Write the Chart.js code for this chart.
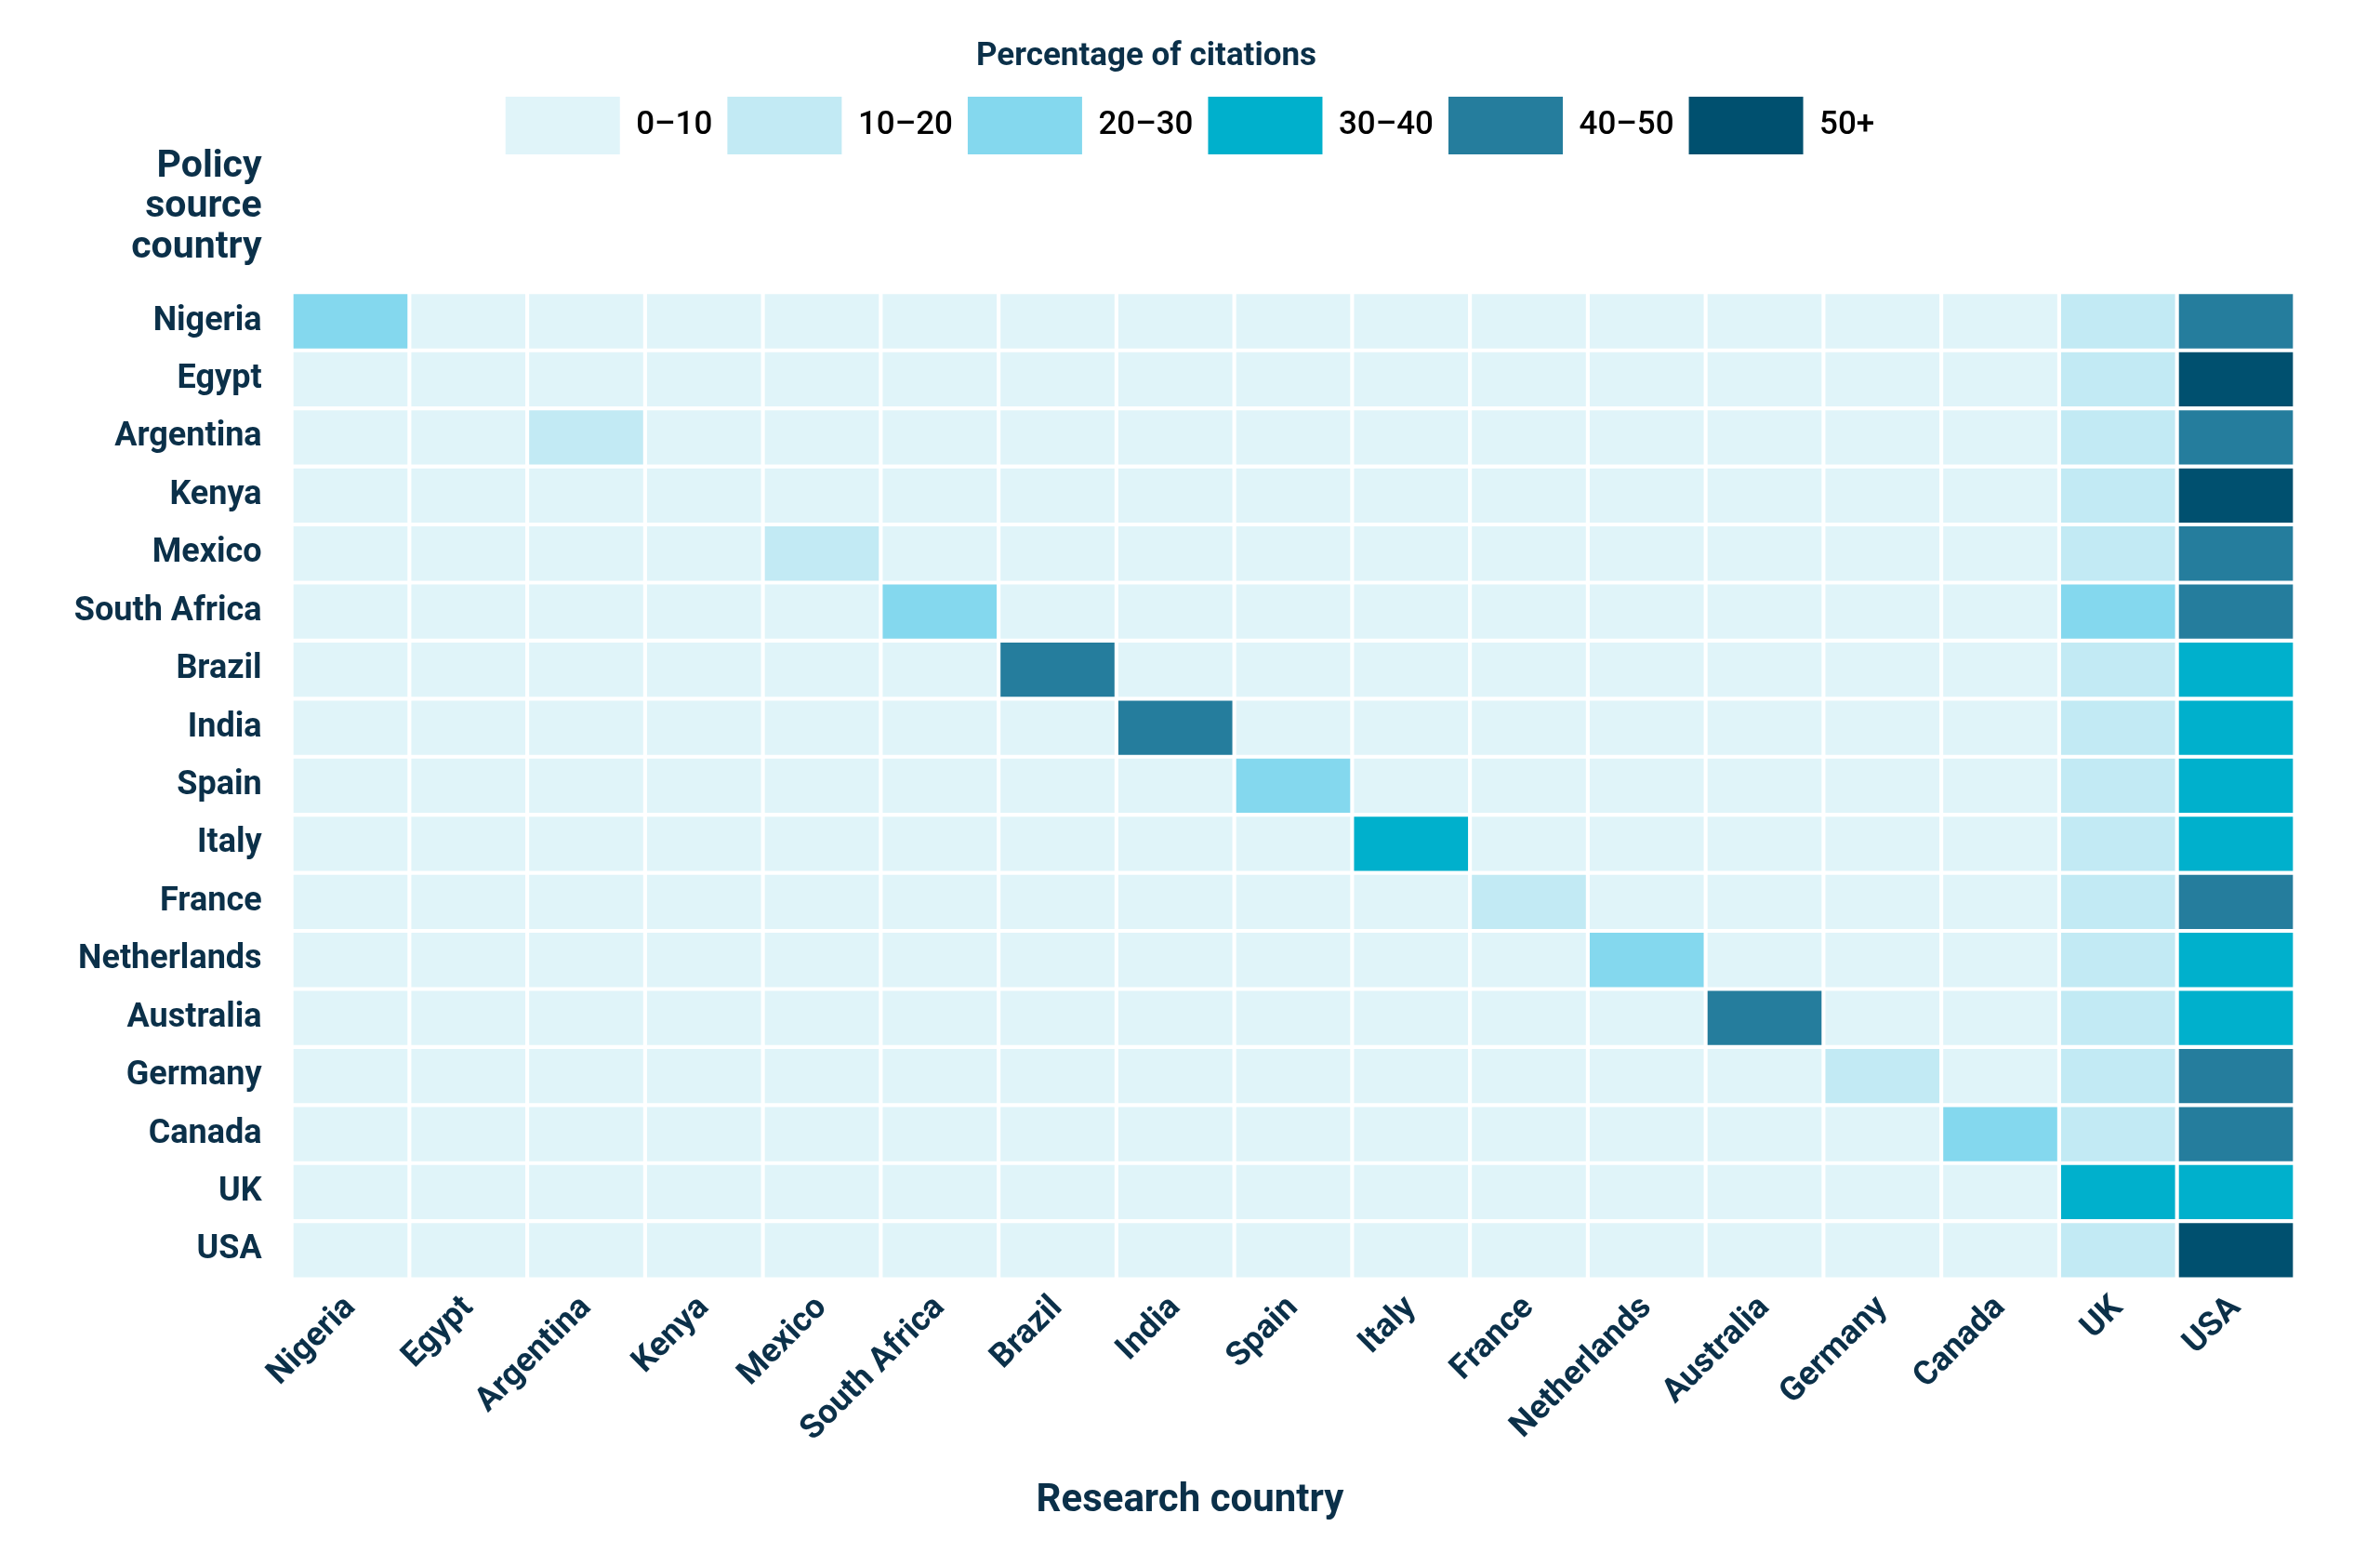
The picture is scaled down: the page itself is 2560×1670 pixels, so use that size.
<!DOCTYPE html>
<html>
<head>
<meta charset="utf-8">
<script src="https://cdn.jsdelivr.net/npm/chart.js@4.4.1/dist/chart.umd.min.js"></script>
<style>
  html, body { margin: 0; padding: 0; background: #ffffff; }
  #wrap { width: 2560px; height: 1670px; position: relative; }
</style>
</head>
<body>
<div id="wrap"><canvas id="c"></canvas></div>
<script>
// ---- data ----
const policyCountries = ['Nigeria','Egypt','Argentina','Kenya','Mexico','South Africa','Brazil','India','Spain','Italy','France','Netherlands','Australia','Germany','Canada','UK','USA'];
const researchCountries = ['Nigeria','Egypt','Argentina','Kenya','Mexico','South Africa','Brazil','India','Spain','Italy','France','Netherlands','Australia','Germany','Canada','UK','USA'];
const binLabels = ['0–10','10–20','20–30','30–40','40–50','50+'];
const binEdges = [10, 20, 30, 40, 50];
// percentage of citations (estimated from binned colours), rows = policy source, cols = research country
const values = [
  [25, 4, 4, 4, 4, 4, 4, 4, 4, 4, 4, 4, 4, 4, 4, 15, 45], // Nigeria
  [ 4, 4, 4, 4, 4, 4, 4, 4, 4, 4, 4, 4, 4, 4, 4, 15, 55], // Egypt
  [ 4, 4,15, 4, 4, 4, 4, 4, 4, 4, 4, 4, 4, 4, 4, 15, 45], // Argentina
  [ 4, 4, 4, 4, 4, 4, 4, 4, 4, 4, 4, 4, 4, 4, 4, 15, 55], // Kenya
  [ 4, 4, 4, 4,15, 4, 4, 4, 4, 4, 4, 4, 4, 4, 4, 15, 45], // Mexico
  [ 4, 4, 4, 4, 4,25, 4, 4, 4, 4, 4, 4, 4, 4, 4, 25, 45], // South Africa
  [ 4, 4, 4, 4, 4, 4,45, 4, 4, 4, 4, 4, 4, 4, 4, 15, 35], // Brazil
  [ 4, 4, 4, 4, 4, 4, 4,45, 4, 4, 4, 4, 4, 4, 4, 15, 35], // India
  [ 4, 4, 4, 4, 4, 4, 4, 4,25, 4, 4, 4, 4, 4, 4, 15, 35], // Spain
  [ 4, 4, 4, 4, 4, 4, 4, 4, 4,35, 4, 4, 4, 4, 4, 15, 35], // Italy
  [ 4, 4, 4, 4, 4, 4, 4, 4, 4, 4,15, 4, 4, 4, 4, 15, 45], // France
  [ 4, 4, 4, 4, 4, 4, 4, 4, 4, 4, 4,25, 4, 4, 4, 15, 35], // Netherlands
  [ 4, 4, 4, 4, 4, 4, 4, 4, 4, 4, 4, 4,45, 4, 4, 15, 35], // Australia
  [ 4, 4, 4, 4, 4, 4, 4, 4, 4, 4, 4, 4, 4,15, 4, 15, 45], // Germany
  [ 4, 4, 4, 4, 4, 4, 4, 4, 4, 4, 4, 4, 4, 4,25, 15, 45], // Canada
  [ 4, 4, 4, 4, 4, 4, 4, 4, 4, 4, 4, 4, 4, 4, 4, 35, 35], // UK
  [ 4, 4, 4, 4, 4, 4, 4, 4, 4, 4, 4, 4, 4, 4, 4, 15, 55]  // USA
];

// ---- styles ----
const palette = ['#e0f4f9','#c2eaf4','#84d8ee','#00b0cc','#257d9d','#00506f'];
const textColor = '#0b3049';
const FONT = 'Roboto';

function binIndex(v) {
  let k = 0;
  while (k < binEdges.length && v >= binEdges[k]) k++;
  return k;
}

const datasets = policyCountries.map((row, i) => ({
  label: row,
  data: researchCountries.map(() => [i, i + 1]),
  backgroundColor: values[i].map(v => palette[binIndex(v)]),
  borderColor: '#ffffff',
  borderWidth: 2.4,
  borderSkipped: false,
  barPercentage: 1,
  categoryPercentage: 1,
  xAxisID: 'x',
  yAxisID: 'y'
}));

const textPlugin = {
  id: 'extraTitles',
  afterDraw(chart) {
    const ctx = chart.ctx;
    const a = chart.chartArea;
    ctx.save();
    ctx.fillStyle = textColor;
    // legend heading
    ctx.font = 'bold 35px ' + FONT;
    ctx.textAlign = 'center';
    ctx.textBaseline = 'alphabetic';
    ctx.fillText('Percentage of citations', 1233, 70);
    // y-axis heading
    ctx.font = 'bold 41px ' + FONT;
    ctx.textAlign = 'right';
    const x = a.left - 32;
    ctx.fillText('Policy', x, a.top - 124);
    ctx.fillText('source', x, a.top - 81);
    ctx.fillText('country', x, a.top - 37);
    ctx.restore();
  }
};

new Chart(document.getElementById('c'), {
  type: 'bar',
  data: { labels: researchCountries, datasets },
  plugins: [textPlugin],
  options: {
    responsive: true,
    maintainAspectRatio: false,
    animation: false,
    layout: { padding: { top: 88, left: 0, right: 0, bottom: 0 } },
    scales: {
      x: {
        type: 'category',
        position: 'bottom',
        stacked: true,
        offset: true,
        grid: { display: false, drawTicks: false },
        border: { display: false },
        ticks: {
          color: textColor,
          font: { family: FONT, size: 36, weight: 'bold' },
          minRotation: 45, maxRotation: 45,
          autoSkip: false,
          padding: 10
        },
        afterFit(s) { s.height = 200; }
      },
      xTop: {
        type: 'category',
        position: 'top',
        labels: researchCountries,
        grid: { display: false, drawTicks: false },
        border: { display: false },
        ticks: { display: false },
        afterFit(s) { s.height = 138.3; }
      },
      y: {
        type: 'linear',
        min: 0, max: policyCountries.length,
        reverse: true,
        stacked: false,
        display: false
      },
      yl: {
        type: 'category',
        position: 'left',
        labels: policyCountries,
        offset: true,
        grid: { display: false, drawTicks: false },
        border: { display: false },
        ticks: {
          color: textColor,
          font: { family: FONT, size: 36, weight: 'bold' },
          padding: 32,
          autoSkip: false
        },
        afterFit(s) { s.width = 313.6; }
      },
      yr: {
        type: 'category',
        position: 'right',
        labels: policyCountries,
        grid: { display: false, drawTicks: false },
        border: { display: false },
        ticks: { display: false },
        afterFit(s) { s.width = 91.6; }
      }
    },
    plugins: {
      tooltip: { enabled: false },
      legend: {
        display: true,
        position: 'top',
        onClick: null,
        labels: {
          boxWidth: 123,
          boxHeight: 62,
          padding: 16,
          color: textColor,
          font: { family: FONT, size: 35, weight: '500' },
          generateLabels() {
            return binLabels.map((t, k) => ({
              text: t,
              fillStyle: palette[k],
              strokeStyle: 'rgba(0,0,0,0)',
              lineWidth: 0,
              hidden: false,
              index: k
            }));
          }
        }
      },
      title: {
        display: true,
        position: 'bottom',
        text: 'Research country',
        color: textColor,
        font: { family: FONT, size: 42, weight: 'bold' },
        padding: { top: 14, bottom: 30 }
      }
    }
  }
});
</script>
</body>
</html>
